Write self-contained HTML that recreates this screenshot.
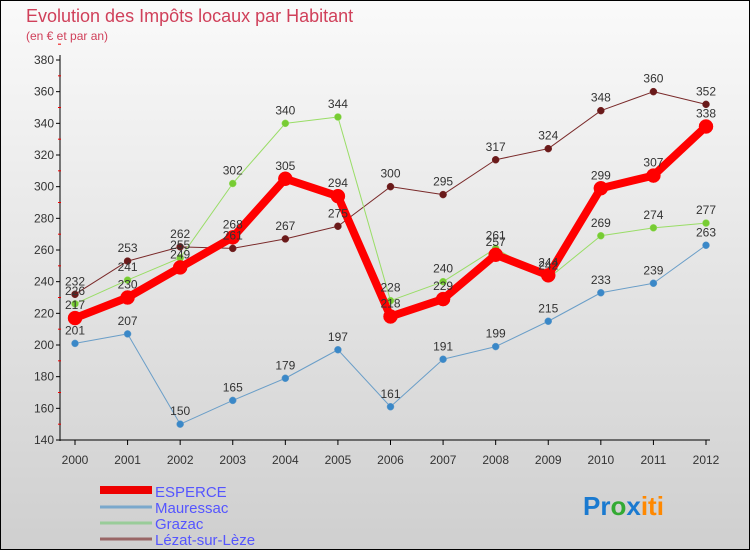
<!DOCTYPE html>
<html><head><meta charset="utf-8"><style>
body{margin:0;width:750px;height:550px;overflow:hidden;font-family:"Liberation Sans",sans-serif}
</style></head><body>
<svg id="c" width="750" height="550" xmlns="http://www.w3.org/2000/svg">
<defs><linearGradient id="bg" x1="0" y1="0" x2="0" y2="1"><stop offset="0" stop-color="#fafafa"/><stop offset="1" stop-color="#cfcfcf"/></linearGradient></defs>
<rect x="0.5" y="0.5" width="749" height="549" fill="url(#bg)" stroke="#000"/>
<text x="26" y="22" font-size="18" fill="#d0405a">Evolution des Impôts locaux par Habitant</text>
<text x="26" y="40" font-size="12" fill="#d0405a">(en € et par an)</text>
<g id="axes"></g><g id="series"></g><g id="labels"></g>
<g>
<rect x="100" y="486" width="52" height="8" fill="#e00"/>
<text x="155" y="497" font-size="15" fill="#5555ff">ESPERCE</text>
<line x1="100" y1="507" x2="152" y2="507" stroke="#7aa8cc" stroke-width="3"/>
<text x="155" y="513" font-size="15" fill="#5555ff">Mauressac</text>
<line x1="100" y1="523" x2="152" y2="523" stroke="#9c9" stroke-width="3"/>
<text x="155" y="529" font-size="15" fill="#5555ff">Grazac</text>
<line x1="100" y1="539" x2="152" y2="539" stroke="#966" stroke-width="3"/>
<text x="155" y="545" font-size="15" fill="#5555ff">Lézat-sur-Lèze</text>
</g>
<text x="583" y="515" font-size="26" font-weight="bold"><tspan fill="#1a7ad0">Pr</tspan><tspan fill="#3a3">o</tspan><tspan fill="#1a7ad0">x</tspan><tspan fill="#f80">iti</tspan></text>
</svg>
<script>
const years=["2000","2001","2002","2003","2004","2005","2006","2007","2008","2009","2010","2011","2012"];
const yTicks=[140,160,180,200,220,240,260,280,300,320,340,360,380];
const esperce=[217,230,249,268,305,294,218,229,257,244,299,307,338];
const mauressac=[201,207,150,165,179,197,161,191,199,215,233,239,263];
const grazac=[226,241,255,302,340,344,228,240,261,242,269,274,277];
const lezat=[232,253,262,261,267,275,300,295,317,324,348,360,352];
const NS="http://www.w3.org/2000/svg";
const X=i=>75+i*(706-75)/12;
const Y=v=>60+(380-v)*380/240;
function mk(t,a,p){const e=document.createElementNS(NS,t);for(const k in a)e.setAttribute(k,a[k]);p.appendChild(e);return e;}
const ax=document.getElementById('axes');
mk('line',{x1:60,y1:55,x2:60,y2:441,stroke:'#000'},ax);
mk('line',{x1:60,y1:440,x2:710,y2:440,stroke:'#000'},ax);
yTicks.forEach(v=>{
 mk('line',{x1:56,y1:Y(v),x2:60,y2:Y(v),stroke:'#000'},ax);
 mk('line',{x1:58,y1:Y(v+10),x2:61,y2:Y(v+10),stroke:'#e00'},ax);
 const t=mk('text',{x:54,y:Y(v)+4,'font-size':12,'text-anchor':'end',fill:'#333'},ax);t.textContent=v;
 
 
});
years.forEach((y,i)=>{
 mk('line',{x1:X(i),y1:440,x2:X(i),y2:445,stroke:'#000'},ax);
 const t=mk('text',{x:X(i),y:464,'font-size':12,'text-anchor':'middle',fill:'#333'},ax);t.textContent=y;
 
 
});
const sg=document.getElementById('series'),lg=document.getElementById('labels');
function draw(name,d,col,dot,w,r){
 const g=mk('g',{},sg);
 
 
 mk('polyline',{points:d.map((v,i)=>X(i)+','+Y(v)).join(' '),fill:'none',stroke:col,'stroke-width':w,'stroke-linejoin':'round'},g);
 d.forEach((v,i)=>{
  const c=mk('circle',{cx:X(i),cy:Y(v),r:r,fill:dot,stroke:col,'stroke-width':0.5},g);
  
  
  const t=mk('text',{x:X(i),y:Y(v)-9,'font-size':12,'text-anchor':'middle',fill:'#333'},lg);t.textContent=v;
  
  
 });
}
draw('lezat',lezat,'#7a2a2a','#6a1a1a',1,3.5);
draw('grazac',grazac,'#99dd66','#7c3',1,3.5);
draw('mauressac',mauressac,'#6a9ec8','#3a88c8',1,3.5);
draw('esperce',esperce,'#f00','#f00',8,7);
</script>
</body></html>
